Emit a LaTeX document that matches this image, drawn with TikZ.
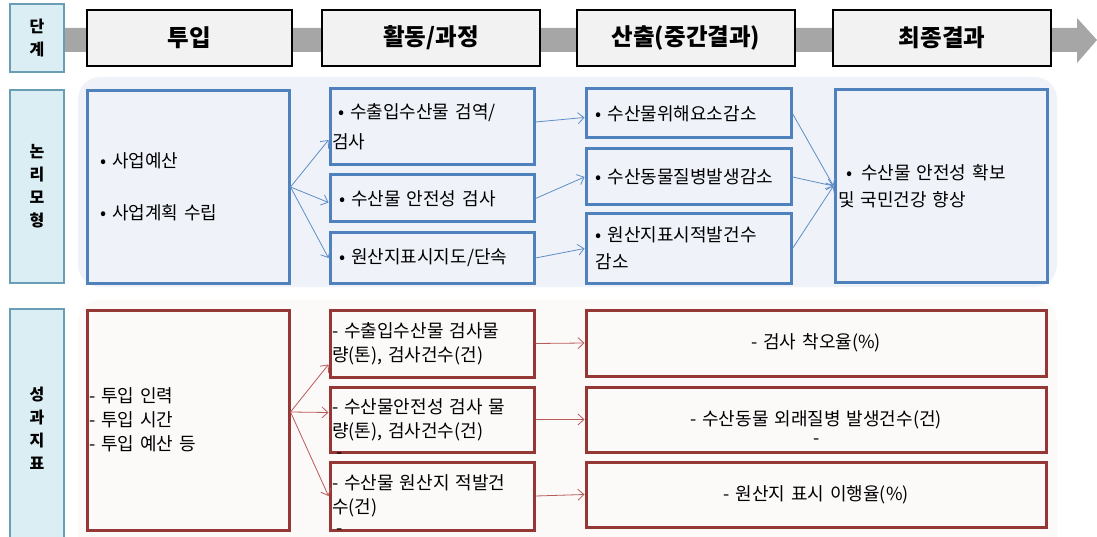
\documentclass[tikz,border=0pt]{standalone}
\usepackage{fontspec}
\setmainfont[WordSpace=2.4]{Noto Sans CJK KR}
\usetikzlibrary{positioning,arrows.meta}
\definecolor{stagefill}{HTML}{DAEEF3}
\definecolor{stageline}{HTML}{6A9EB4}
\definecolor{headfill}{HTML}{F2F2F2}
\definecolor{bandgray}{HTML}{A6A6A6}
\definecolor{logicblue}{HTML}{4F81BD}
\definecolor{logicarrow}{HTML}{5F8DC6}
\definecolor{logicback}{HTML}{EFF3F9}
\definecolor{kpired}{HTML}{953735}
\definecolor{kpiarrow}{HTML}{B85C5A}
\definecolor{kpiback}{HTML}{FCF9F9}

\begin{document}
\begin{tikzpicture}[x=1pt,y=-1pt,
    >={Straight Barb[length=6pt,width=11pt]},
    stagebox/.style={draw=stageline,fill=stagefill,line width=1.2pt,minimum width=54pt,
      align=center,inner sep=0pt,font=\fontsize{16}{23}\selectfont\bfseries},
    headbox/.style={draw=black,fill=headfill,line width=1.5pt,minimum height=56pt,
      inner sep=0pt,font=\fontsize{23.5}{26}\selectfont\bfseries},
    logicbox/.style={draw=logicblue,line width=3pt,align=left,inner ysep=0pt,
      font=\fontsize{18}{27}\selectfont},
    kpibox/.style={draw=kpired,line width=3pt,align=left,inner ysep=0pt,
      font=\fontsize{18}{24}\selectfont},
    logicline/.style={draw=logicarrow,line width=0.8pt},
    kpiline/.style={draw=kpiarrow,line width=0.8pt},
  ]
    \useasboundingbox (0,0) rectangle (1097,537);
    % backgrounds
    \fill[logicback,rounded corners=22pt] (78,77) rectangle (1057,287);
    \fill[kpiback,rounded corners=22pt] (78,300) rectangle (1057,580);
    % stages
    \fill[bandgray] (60,28) -- (1077,28) -- (1077,18) -- (1097,40) -- (1077,63)
      -- (1077,52) -- (60,52) -- cycle;
    \node[stagebox,minimum height=68pt] (stg) at (37,38) {단\\계};
    \node[headbox,minimum width=205pt] (hin) at (189.5,38) {투입};
    \node[headbox,minimum width=218pt] (hac) at (431,38) {활동/과정};
    \node[headbox,minimum width=218pt] (hou) at (686,38) {산출(중간결과)};
    \node[headbox,minimum width=218pt] (hfi) at (942,38) {최종결과};
    % logic model
    \node[stagebox,minimum height=193pt] (lgc) at (37,186.5) {논\\리\\모\\형};
    \node[logicbox,minimum width=202pt,minimum height=192pt,text width=176pt,inner xsep=13pt]
      (lin) at (188,187) {• 사업예산\\[25pt]• 사업계획 수립};
    \node[logicbox,minimum width=204pt,minimum height=76pt,text width=200pt,inner xsep=2pt]
      (lac1) at (432,127) {\hspace*{6pt}• 수출입수산물 검역/\\[3pt]검사};
    \node[logicbox,minimum width=204pt,minimum height=47pt,text width=200pt,inner xsep=2pt]
      (lac2) at (432,198.5) {\hspace*{7pt}• 수산물 안전성 검사};
    \node[logicbox,minimum width=204pt,minimum height=50pt,text width=200pt,inner xsep=2pt]
      (lac3) at (432,258) {\hspace*{7pt}• 원산지표시지도/단속};
    \node[logicbox,minimum width=205pt,minimum height=49pt,text width=186pt,inner xsep=2pt]
      (lou1) at (688.5,113.5) {• 수산물위해요소감소};
    \node[logicbox,minimum width=205pt,minimum height=56pt,text width=186pt,inner xsep=2pt]
      (lou2) at (688.5,177) {• 수산동물질병발생감소};
    \node[logicbox,minimum width=205pt,minimum height=69pt,text width=186pt,inner xsep=2pt]
      (lou3) at (688.5,248.5) {• 원산지표시적발건수\\감소};
    \node[logicbox,minimum width=212pt,minimum height=192pt,text width=206pt,inner xsep=2pt]
      (lfi) at (941,186) {\hspace*{8pt}• \hspace{3pt}수산물 안전성 확보\\및 국민건강 향상};
    \draw[logicline,->] (lin.east) -- ([yshift=-13pt]lac1.west);
    \draw[logicline,->] (lin.east) -- ([yshift=-4pt]lac2.west);
    \draw[logicline,->] (lin.east) -- (lac3.west);
    \draw[logicline,->] ([yshift=5pt]lac1.east) -- ([yshift=-4pt]lou1.west);
    \draw[logicline,->] (lac2.east) -- (lou2.west);
    \draw[logicline,->] (lac3.east) -- (lou3.west);
    \draw[logicline,->] (lou1.east) -- (lfi.west);
    \draw[logicline,->] (lou2.east) -- (lfi.west);
    \draw[logicline,->] (lou3.east) -- (lfi.west);
    % performance indicators
    \node[stagebox,minimum height=238pt] (kpi) at (37,428) {성\\과\\지\\표};
    \node[kpibox,minimum width=202pt,minimum height=220pt,text width=198pt,inner xsep=2pt]
      (kin) at (188,420) {- 투입 인력\\- 투입 시간\\- 투입 예산 등};
    \node[kpibox,minimum width=204pt,minimum height=67pt,text width=200pt,inner xsep=2pt]
      (kac1) at (432,343.5) {- 수출입수산물 검사물\\량(톤), 검사건수(건)};
    \node[kpibox,minimum width=204pt,minimum height=65pt,text width=200pt,inner xsep=2pt]
      (kac2) at (432,419.5) {- 수산물안전성 검사 물\\량(톤), 검사건수(건)};
    \node[kpibox,minimum width=204pt,minimum height=68pt,text width=200pt,inner xsep=2pt]
      (kac3) at (432,496) {- 수산물 원산지 적발건\\수(건)};
    \node[font=\fontsize{18}{24}\selectfont,inner sep=0pt] (kac2d) at (340,456) {-};
    \node[font=\fontsize{18}{24}\selectfont,inner sep=0pt] (kac3d) at (340,532) {-};
    \node[kpibox,minimum width=460pt,minimum height=66pt,text width=456pt,inner xsep=2pt,align=center]
      (kou1) at (816,343) {- 검사 착오율(\%)};
    \node[kpibox,minimum width=460pt,minimum height=65pt,text width=456pt,inner xsep=2pt,align=center]
      (kou2) at (816,419.5) {- 수산동물 외래질병 발생건수(건)};
    \node[font=\fontsize{18}{24}\selectfont,inner sep=0pt] (kou2d) at (817,442) {-};
    \node[kpibox,minimum width=460pt,minimum height=65pt,text width=456pt,inner xsep=2pt,align=center]
      (kou3) at (816,494.5) {- 원산지 표시 이행율(\%)};
    \draw[kpiline,->] ([yshift=8pt]kin.east) -- ([yshift=-21pt]kac1.west);
    \draw[kpiline,->] ([yshift=8pt]kin.east) -- ([yshift=7pt]kac2.west);
    \draw[kpiline,->] ([yshift=8pt]kin.east) -- (kac3.west);
    \draw[kpiline,->] (kac1.east) -- (kou1.west);
    \draw[kpiline,->] (kac2.east) -- (kou2.west);
    \draw[kpiline,->] (kac3.east) -- (kou3.west);
  \end{tikzpicture}
\end{document}
